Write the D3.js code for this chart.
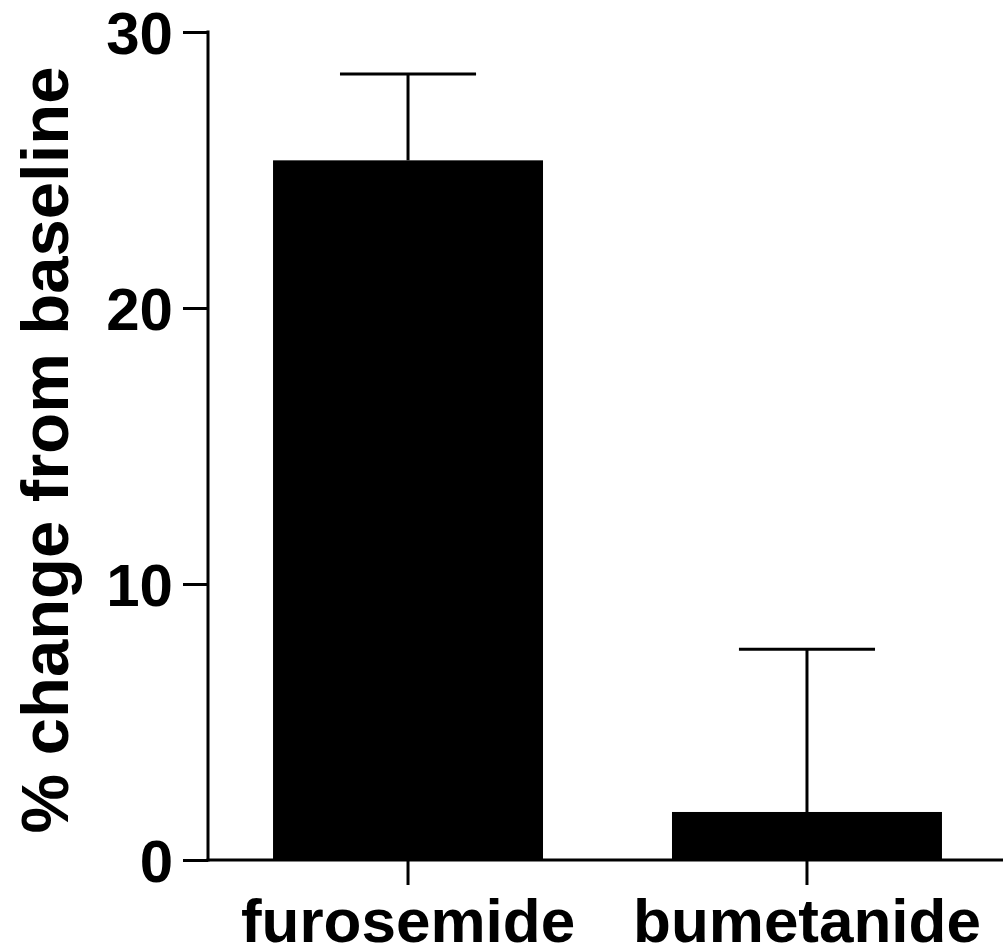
<!DOCTYPE html>
<html>
<head>
<meta charset="utf-8">
<script src="https://cdn.jsdelivr.net/npm/d3@7"></script>
<style>
  html, body { margin: 0; padding: 0; background: #fff; }
  svg { display: block; }
  text { font-family: "Liberation Sans", Arial, Helvetica, sans-serif; font-weight: bold; fill: #000; }
</style>
</head>
<body>
<svg id="chart" width="1003" height="948"></svg>
<script>
const categories = ["furosemide", "bumetanide"];
const means = [25.35, 1.74];
const errors = [3.13, 5.9];
const yTicks = [0, 10, 20, 30];
const yTitle = "% change from baseline";

const svg = d3.select("#chart");
const x0 = 208, x1 = 1007, yTop = 32, yBottom = 860;

const x = d3.scaleBand().domain(categories).range([x0, x1])
  .paddingInner(0.3233).paddingOuter(0.163);
const y = d3.scaleLinear().domain([0, 30]).range([yBottom, yTop]);

const data = categories.map((c, i) => ({ c, m: means[i], e: errors[i] }));

// bars
svg.append("g").selectAll("rect").data(data).join("rect")
  .attr("x", d => x(d.c))
  .attr("y", d => y(d.m))
  .attr("width", x.bandwidth())
  .attr("height", d => y(0) - y(d.m))
  .attr("fill", "#000");

// error bars
const capHalf = x.bandwidth() * 0.252;
const eb = svg.append("g").attr("stroke", "#000").attr("stroke-width", 3);
eb.selectAll("line.v").data(data).join("line").attr("class", "v")
  .attr("x1", d => x(d.c) + x.bandwidth() / 2)
  .attr("x2", d => x(d.c) + x.bandwidth() / 2)
  .attr("y1", d => y(d.m))
  .attr("y2", d => y(d.m + d.e));
eb.selectAll("line.h").data(data).join("line").attr("class", "h")
  .attr("x1", d => x(d.c) + x.bandwidth() / 2 - capHalf)
  .attr("x2", d => x(d.c) + x.bandwidth() / 2 + capHalf)
  .attr("y1", d => y(d.m + d.e))
  .attr("y2", d => y(d.m + d.e));

// y axis
const yAxis = d3.axisLeft(y).tickValues(yTicks).tickSize(25).tickPadding(10).tickSizeOuter(0);
const gy = svg.append("g").attr("transform", `translate(${x0},0)`).call(yAxis);
gy.select(".domain").attr("stroke", "#000").attr("stroke-width", 3)
  .attr("d", `M0,${yTop - 1.5}V${yBottom + 1.5}`);
gy.selectAll(".tick line").attr("stroke", "#000").attr("stroke-width", 3);
gy.selectAll(".tick text").style("font-size", "60px").attr("dy", "0.36em")
  .style("font-family", '"Liberation Sans", Arial, sans-serif').style("font-weight", "bold").attr("fill", "#000");

// x axis
const xAxis = d3.axisBottom(x).tickSize(25).tickPadding(12).tickSizeOuter(0);
const gx = svg.append("g").attr("transform", `translate(0,${yBottom})`).call(xAxis);
gx.select(".domain").attr("stroke", "#000").attr("stroke-width", 3)
  .attr("d", `M${x0 - 1.5},0H1003`);
gx.selectAll(".tick line").attr("stroke", "#000").attr("stroke-width", 3);
gx.selectAll(".tick text").style("font-size", "62px").attr("dy", "0.72em")
  .style("font-family", '"Liberation Sans", Arial, sans-serif').style("font-weight", "bold").attr("fill", "#000");

// y title
svg.append("text")
  .attr("transform", `translate(68,450) rotate(-90)`)
  .attr("text-anchor", "middle")
  .style("font-size", "67px")
  .text(yTitle);
</script>
</body>
</html>
